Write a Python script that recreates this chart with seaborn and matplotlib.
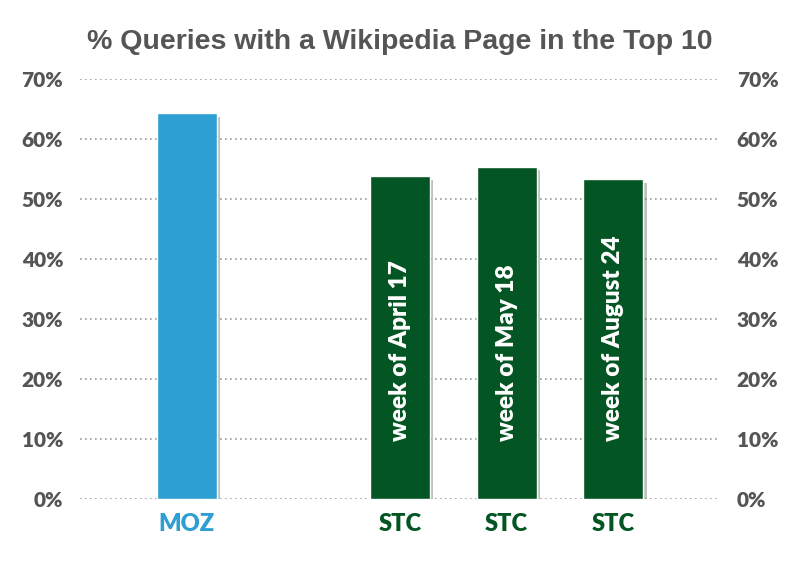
import matplotlib.pyplot as plt
import matplotlib.patheffects as pe
import pandas as pd
import seaborn as sns

# data
sources = ["MOZ", "STC", "STC", "STC"]
weeks = ["", "week of April 17", "week of May 18", "week of August 24"]
share = [64.3, 53.8, 55.4, 53.3]
slots = ["moz", "stc_apr", "stc_may", "stc_aug"]
order = ["moz", "gap", "stc_apr", "stc_may", "stc_aug"]
tick_labels = ["MOZ", "", "STC", "STC", "STC"]

blue = "#2e9fd2"
green = "#035623"
grey = "#555555"

df = pd.DataFrame({"slot": slots, "share": [v / 100 for v in share], "source": sources})

sns.set_style("white")
plt.rcParams["font.family"] = ["Lato", "DejaVu Sans"]

fig = plt.figure(figsize=(8, 5.65), dpi=100)
ax = fig.add_axes([0.1, 0.117, 0.8, 0.743])

sns.barplot(data=df, x="slot", y="share", order=order, hue="source",
            palette={"MOZ": blue, "STC": green}, width=0.56, saturation=1,
            legend=False, ax=ax)

for bar in ax.patches:
    bar.set_path_effects([pe.SimplePatchShadow(offset=(2.5, -2.5), shadow_rgbFace="#777777", alpha=0.45),
                          pe.Normal()])

# labels inside the STC bars
for i, s in enumerate(slots):
    if weeks[i]:
        ax.text(order.index(s), 0.097, weeks[i], rotation=90, ha="center", va="bottom",
                color="white", fontsize=17.5, fontweight="heavy")

ax.set_ylim(0, 0.70)
ax.set_xlim(-1, 5)
ticks = [i / 10 for i in range(8)]
ax.set_yticks(ticks)
ax.set_yticklabels([f"{int(t*100)}%" for t in ticks], fontsize=15, fontweight="heavy", color=grey)
ax.tick_params(axis="y", length=0, pad=12, labelright=True, right=False)
ax.yaxis.grid(True, linestyle=(0, (1, 2)), color="#999999", linewidth=1.2)
ax.set_axisbelow(True)

ax.set_xticks(range(len(order)))
ax.set_xticklabels(tick_labels, fontsize=17, fontweight="heavy")
for lab, c in zip(ax.get_xticklabels(), [blue, green, green, green, green]):
    lab.set_color(c)
ax.tick_params(axis="x", length=0, pad=10)
ax.set_xlabel("")
ax.set_ylabel("")
sns.despine(ax=ax, left=True, bottom=True)

fig.text(0.5, 0.925, "% Queries with a Wikipedia Page in the Top 10", ha="center", va="center",
         fontsize=20.5, fontweight="bold", color=grey, family=["Liberation Sans", "DejaVu Sans"])

fig.savefig("out.png", dpi=100)
